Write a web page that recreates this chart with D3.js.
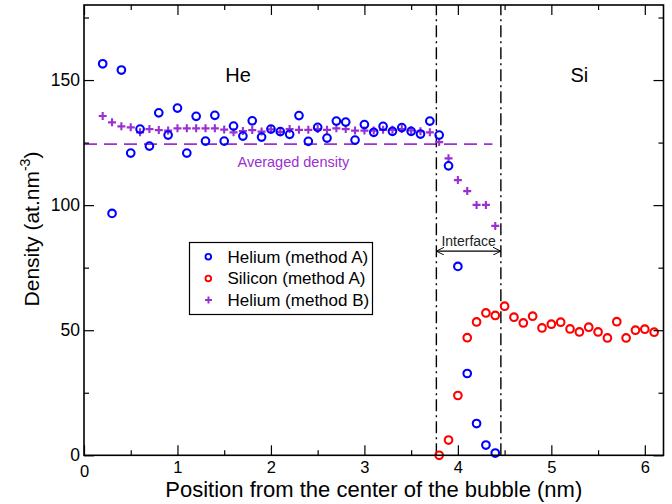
<!DOCTYPE html>
<html><head><meta charset="utf-8">
<script src="https://cdn.jsdelivr.net/npm/d3@7"></script>
<style>body{margin:0;background:#fff}svg{display:block;font-family:"Liberation Sans",Arial,sans-serif}</style>
</head><body><div id="chart"></div>
<script>
const heAx = [0.2,0.3,0.4,0.5,0.6,0.7,0.8,0.9,1.0,1.1,1.2,1.3,1.4,1.5,1.6,1.7,1.8,1.9,2.0,2.1,2.2,2.3,2.4,2.5,2.6,2.7,2.8,2.9,3.0,3.1,3.2,3.3,3.4,3.5,3.6,3.7,3.8,3.9,4.0,4.1,4.2,4.3,4.4];
const heAy = [156.5,96.7,154,120.8,130.4,123.6,136.9,128,138.8,120.8,135.5,125.6,135.9,125.6,131.6,127.6,133.7,127.2,130.4,129.4,128.3,135.8,125.5,131.1,126.8,133.6,133.2,126,132.2,129.1,131.5,129.5,131,129.5,128.4,133.6,128,115.7,75.5,32.7,12.7,4.1,0.9];
const siAx = [3.8,3.9,4.0,4.1,4.2,4.3,4.4,4.5,4.6,4.7,4.8,4.9,5.0,5.1,5.2,5.3,5.4,5.5,5.6,5.7,5.8,5.9,6.0,6.1];
const siAy = [0,6.1,23.9,47,53.3,56.9,55.9,59.6,55.2,52.9,55.6,50.9,52.4,53.2,50.5,49.3,51.2,49.3,46.9,53.4,46.9,50,50.4,49.2];
const heBx = [0.2,0.3,0.4,0.5,0.6,0.7,0.8,0.9,1.0,1.1,1.2,1.3,1.4,1.5,1.6,1.7,1.8,1.9,2.0,2.1,2.2,2.3,2.4,2.5,2.6,2.7,2.8,2.9,3.0,3.1,3.2,3.3,3.4,3.5,3.6,3.7,3.8,3.9,4.0,4.1,4.2,4.3,4.4];
const heBy = [135.6,133.1,131.5,131.1,129.1,130.4,130,129.8,130.7,130.7,130.7,130.7,130.7,130.2,129.1,129.6,130,129.4,130.3,129.3,130.4,130.1,130.1,130.4,130.1,130.7,130.4,129.8,129.8,129.8,130.1,130.1,130.4,129.9,129.5,129.1,125.2,118.7,110,105.6,100.1,100.1,91.7];
const avgDensity = 124.4, avgRange = [0, 4.37];
const interfaceX = [3.77, 4.46];
const arrowY = 81.6;
const xTicks = [0,1,2,3,4,5,6];
const yTicks = [0,50,100,150];
const legendLabels = ["Helium (method A)","Silicon (method A)","Helium (method B)"];

const W=672,H=504, m={l:84,r:8.5,t:5,b:48.7};
const blue="#0000ff", red="#ff0000", purple="#9b30d0";
const svg=d3.select("#chart").append("svg").attr("width",W).attr("height",H);
const x=d3.scaleLinear().domain([0,6.2]).range([m.l,W-m.r]);
const y=d3.scaleLinear().domain([0,180]).range([H-m.b,m.t]);
const g=svg.append("g");

// dashed average line
g.append("line").attr("x1",x(avgRange[0])).attr("x2",x(avgRange[1])).attr("y1",y(avgDensity)).attr("y2",y(avgDensity))
 .attr("stroke",purple).attr("stroke-width",1.6).attr("stroke-dasharray","13,7");
g.append("text").attr("x",x(2.24)).attr("y",y(avgDensity)+23).attr("text-anchor","middle").attr("fill",purple).attr("font-size",14.5).text("Averaged density");

// interface lines
interfaceX.forEach(v=>g.append("line").attr("x1",x(v)).attr("x2",x(v)).attr("y1",y(0)).attr("y2",y(180))
 .attr("stroke","#000").attr("stroke-width",1.4).attr("stroke-dasharray","12,4,2,4"));
const defs=svg.append("defs");
defs.append("marker").attr("id","ah").attr("viewBox","0 0 10 10").attr("refX",10).attr("refY",5).attr("markerWidth",8).attr("markerHeight",8)
 .attr("orient","auto-start-reverse").attr("markerUnits","userSpaceOnUse")
 .append("path").attr("d","M0,0 L10,5 L0,10").attr("fill","none").attr("stroke","#000").attr("stroke-width",1.2);
g.append("line").attr("x1",x(interfaceX[0])).attr("x2",x(interfaceX[1])).attr("y1",y(arrowY)).attr("y2",y(arrowY))
 .attr("stroke","#000").attr("stroke-width",1.2).attr("marker-start","url(#ah)").attr("marker-end","url(#ah)");
g.append("text").attr("x",(x(interfaceX[0])+x(interfaceX[1]))/2).attr("y",y(arrowY)-5).attr("text-anchor","middle").attr("font-size",14).attr("fill","#222").text("Interface");

// region labels
g.append("text").attr("x",238).attr("y",82).attr("text-anchor","middle").attr("font-size",20).text("He");
g.append("text").attr("x",x(5.3)).attr("y",82).attr("text-anchor","middle").attr("font-size",20).text("Si");

// data
const plus = (sel,cx,cy)=>sel.append("path").attr("d",`M${cx-4},${cy}h8M${cx},${cy-4}v8`).attr("stroke",purple).attr("stroke-width",2.1).attr("fill","none");
heBx.forEach((v,i)=>plus(g,x(v),y(heBy[i])));
g.selectAll(".he").data(heAx).join("circle").attr("cx",d=>x(d)).attr("cy",(d,i)=>y(heAy[i])).attr("r",3.8).attr("fill","none").attr("stroke",blue).attr("stroke-width",2.1);
g.selectAll(".si").data(siAx).join("circle").attr("cx",d=>x(d)).attr("cy",(d,i)=>y(siAy[i])).attr("r",3.8).attr("fill","none").attr("stroke",red).attr("stroke-width",2.1);

// axes
const fr=svg.append("g");
const mk=(axis,tr,major,minor,labels)=>{
  const a=fr.append("g").attr("transform",tr);
  a.call(axis.tickValues(minor).tickSize(5).tickFormat(""));
  const b=fr.append("g").attr("transform",tr);
  b.call(axis.tickValues(major).tickSize(10).tickFormat(labels?d3.format("d"):""));
  [a,b].forEach(s=>{s.select(".domain").remove();s.selectAll("line").attr("stroke","#000").attr("stroke-width",1.2);});
  return b;
};
const xMinor=d3.range(0.5,6.2,1), yMinor=d3.range(25,180,50);
const bx=mk(d3.axisBottom(x),`translate(0,${y(0)})`,xTicks,xMinor,true);
mk(d3.axisTop(x),`translate(0,${y(180)})`,xTicks,xMinor,false);
const by=mk(d3.axisLeft(y),`translate(${x(0)},0)`,yTicks,yMinor,true);
mk(d3.axisRight(y),`translate(${x(6.2)},0)`,yTicks,yMinor,false);
// ticks point inward
svg.selectAll("g.tick line").each(function(){
  const l=d3.select(this);
  ["x2","y2"].forEach(k=>{const v=+l.attr(k); if(v) l.attr(k,-v);});
});
bx.selectAll("text").attr("font-size",16.5).attr("fill","#000").attr("y",6);
by.selectAll("text").attr("font-size",17.5).attr("fill","#000").attr("x",-4);
bx.selectAll(".tick").filter(d=>d===0).select("text").attr("dy","0.95em");
fr.append("rect").attr("x",x(0)).attr("y",y(180)).attr("width",x(6.2)-x(0)).attr("height",y(0)-y(180)).attr("fill","none").attr("stroke","#000").attr("stroke-width",1.6);

// axis titles
svg.append("text").attr("x",(x(0)+x(6.2))/2).attr("y",497).attr("text-anchor","middle").attr("font-size",22).text("Position from the center of the bubble (nm)");
const yl=svg.append("text").attr("transform",`translate(38.5,229) rotate(-90)`).attr("text-anchor","middle").attr("font-size",21);
yl.append("tspan").text("Density (at.nm");
yl.append("tspan").attr("font-size",14).attr("dy",-9).text("-3");
yl.append("tspan").attr("dy",9).text(")");

// legend
const lg=svg.append("g");
lg.append("rect").attr("x",189.5).attr("y",242.5).attr("width",183).attr("height",72).attr("fill","#fff").attr("stroke","#000").attr("stroke-width",1.2);
legendLabels.forEach((t,i)=>{
  const cy=256.7+i*21.7;
  if(i<2) lg.append("circle").attr("cx",208.3).attr("cy",cy).attr("r",2.8).attr("fill","none").attr("stroke",i?red:blue).attr("stroke-width",1.9);
  else lg.append("path").attr("d",`M205,${cy}h7M208.5,${cy-3.5}v7`).attr("stroke",purple).attr("stroke-width",2);
  lg.append("text").attr("x",227.5).attr("y",cy+6).attr("font-size",17).text(t);
});
</script></body></html>
